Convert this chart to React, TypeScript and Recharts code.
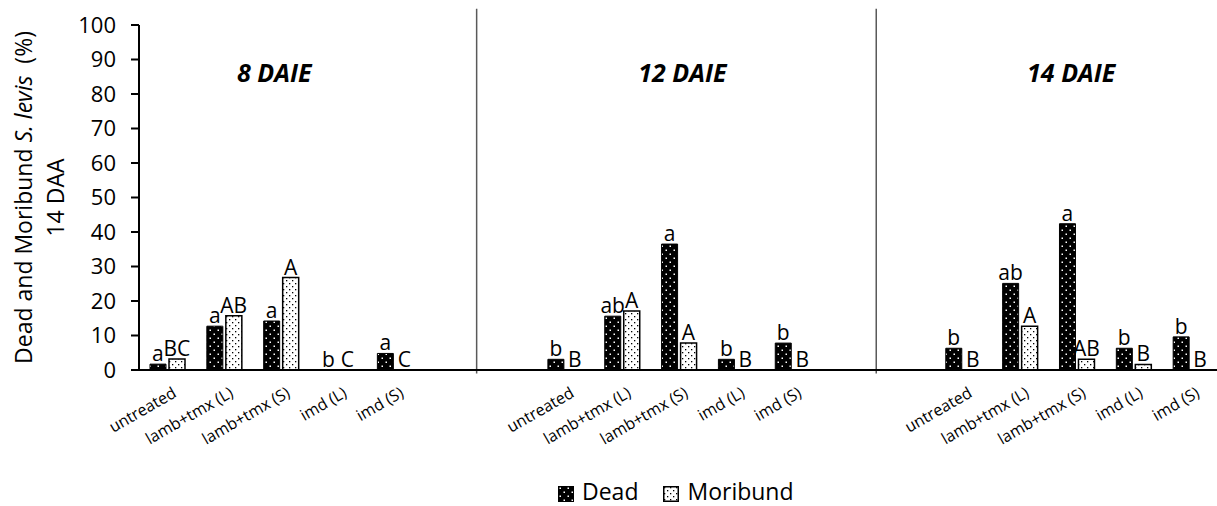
import React from 'react';
import { ComposedChart, Bar, Line, XAxis, YAxis, LabelList, Legend, ReferenceLine, ReferenceDot } from 'recharts';

const treatments = ['untreated', 'lamb+tmx (L)', 'lamb+tmx (S)', 'imd (L)', 'imd (S)'];
const timings = ['8 DAIE', '12 DAIE', '14 DAIE'];

const dead8 = [1.7, 12.7, 14.2, 0, 4.8];
const mor8 = [3.2, 15.7, 26.8, 0, 0];
const deadLetters8 = ['a', 'a', 'a', 'b', 'a'];
const morLetters8 = ['BC', 'AB', 'A', 'C', 'C'];

const dead12 = [3.1, 15.6, 36.5, 3.1, 7.8];
const mor12 = [0, 17.1, 7.8, 0, 0];
const deadLetters12 = ['b', 'ab', 'a', 'b', 'b'];
const morLetters12 = ['B', 'A', 'A', 'B', 'B'];

const dead14 = [6.3, 25.1, 42.4, 6.3, 9.6];
const mor14 = [0, 12.7, 3.1, 1.6, 0];
const deadLetters14 = ['b', 'ab', 'a', 'b', 'b'];
const morLetters14 = ['B', 'A', 'AB', 'B', 'B'];

const yTicks = [0, 10, 20, 30, 40, 50, 60, 70, 80, 90, 100];
const separatorPos = [5.94, 12.97];
const titlePos = [2.38, 9.56, 16.4];
const titleLevel = 86;
const blankSlots = 2;

const BAR_SIZE = 16;
const BAR_GAP = 3;

const deadSets = [dead8, dead12, dead14];
const morSets = [mor8, mor12, mor14];
const deadLetterSets = [deadLetters8, deadLetters12, deadLetters14];
const morLetterSets = [morLetters8, morLetters12, morLetters14];

const data: any[] = [];
timings.forEach((t, gi) => {
  treatments.forEach((tr, i) => {
    data.push({
      name: tr,
      dead: deadSets[gi][i],
      mor: morSets[gi][i],
      deadL: deadLetterSets[gi][i],
      morL: morLetterSets[gi][i],
    });
  });
  if (gi < timings.length - 1) {
    for (let k = 0; k < blankSlots; k++) data.push({ name: '', dead: null, mor: null });
  }
});
data.forEach((d, i) => {
  d.slot = i + 0.5;
});
const slotCount = data.length;

const XTick = (props: any) => {
  const { x, y, payload } = props;
  if (!payload || !payload.value) return null;
  return (
    <text
      x={0}
      y={0}
      transform={`translate(${x + 10},${y + 26}) rotate(-30)`}
      textAnchor="end"
      fontSize={16}
      fill="#000"
    >
      {payload.value}
    </text>
  );
};

const letterContent = (shift: number) => (props: any) => {
  const { x, y, value } = props;
  if (value == null || value === '' || x == null || y == null || isNaN(y)) return null;
  return (
    <text x={x + shift} y={y - 3} textAnchor="middle" fontSize={21} fill="#000">
      {value}
    </text>
  );
};

const renderYTitle = (props: any) => {
  const vb = props.viewBox || { x: 0, y: 25, width: 139, height: 345 };
  const cy = vb.y + vb.height / 2;
  return (
    <g>
      <text
        transform={`translate(23,${cy}) rotate(-90)`}
        textAnchor="middle"
        dominantBaseline="central"
        fontSize={23}
        fill="#000"
        style={{ whiteSpace: 'pre' }}
      >
        {'Dead and Moribund '}
        <tspan fontStyle="italic">S. levis</tspan>
        {'  (%)'}
      </text>
      <text
        transform={`translate(55,${cy}) rotate(-90)`}
        textAnchor="middle"
        dominantBaseline="central"
        fontSize={23}
        fill="#000"
      >
        14 DAA
      </text>
    </g>
  );
};

const renderLegend = () => (
  <div
    style={{
      width: 1220,
      height: 30,
      display: 'flex',
      alignItems: 'center',
      paddingLeft: 558,
      boxSizing: 'border-box',
      fontSize: 23,
      lineHeight: '30px',
      color: '#000',
    }}
  >
    <svg width={16} height={16} style={{ marginRight: 8, marginTop: 6 }}>
      <rect x={0} y={0} width={16} height={16} fill="url(#deadPat)" stroke="#000" />
    </svg>
    <span style={{ marginRight: 25 }}>Dead</span>
    <svg width={16} height={16} style={{ marginRight: 8, marginTop: 6 }}>
      <rect x={0.75} y={0.75} width={14.5} height={14.5} fill="url(#morPat)" stroke="#000" strokeWidth={1.5} />
    </svg>
    <span>Moribund</span>
  </div>
);

export default function App() {
  return (
    <div
      style={{
        position: 'absolute',
        left: 0,
        top: 0,
        width: 1217,
        height: 506,
        overflow: 'hidden',
        background: '#fff',
        fontFamily: '"Open Sans", sans-serif',
      }}
    >
      <ComposedChart
        width={1220}
        height={506}
        data={data}
        margin={{ top: 25, right: 1, left: 0, bottom: 0 }}
        barGap={BAR_GAP}
      >
        <defs>
          <pattern id="deadPat" patternUnits="userSpaceOnUse" width={8} height={8}>
            <rect x={0} y={0} width={8} height={8} fill="#000" />
            <rect x={1.5} y={1.5} width={1.5} height={1.5} fill="#fff" />
            <rect x={5.5} y={5.5} width={1.5} height={1.5} fill="#fff" />
          </pattern>
          <pattern id="morPat" patternUnits="userSpaceOnUse" width={6} height={6}>
            <rect x={0} y={0} width={6} height={6} fill="#fff" />
            <rect x={1} y={1} width={1.3} height={1.3} fill="#000" />
            <rect x={4} y={4} width={1.3} height={1.3} fill="#000" />
          </pattern>
        </defs>
        <XAxis
          xAxisId="cat"
          dataKey="name"
          type="category"
          interval={0}
          tickLine={false}
          tickSize={0}
          tickMargin={0}
          height={106}
          axisLine={{ stroke: '#000', strokeWidth: 2 }}
          tick={<XTick />}
        />
        <XAxis
          xAxisId="pos"
          dataKey="slot"
          type="number"
          domain={[0, slotCount]}
          allowDataOverflow
          hide
        />
        <YAxis
          domain={[0, 100]}
          ticks={yTicks}
          interval={0}
          width={139}
          tickSize={8}
          tickMargin={15}
          axisLine={{ stroke: '#000', strokeWidth: 2 }}
          tickLine={{ stroke: '#000', strokeWidth: 2 }}
          tick={{ fontSize: 22, fill: '#000' }}
          label={renderYTitle}
        />
        {separatorPos.map((p, i) => (
          <ReferenceLine
            key={'sep' + i}
            xAxisId="pos"
            segment={[{ x: p, y: -1 }, { x: p, y: 104.7 }]}
            stroke="#595959"
            strokeWidth={1.5}
            ifOverflow="visible"
          />
        ))}
        {timings.map((t, i) => (
          <ReferenceDot
            key={'title' + i}
            xAxisId="pos"
            x={titlePos[i]}
            y={titleLevel}
            r={0}
            fill="none"
            stroke="none"
            ifOverflow="visible"
            label={{
              value: t,
              position: 'center',
              fontSize: 25,
              fontWeight: 700,
              fontStyle: 'italic',
              fill: '#000',
            }}
          />
        ))}
        <Bar
          xAxisId="cat"
          dataKey="dead"
          name="Dead"
          fill="url(#deadPat)"
          stroke="#000"
          strokeWidth={1}
          barSize={BAR_SIZE}
          isAnimationActive={false}
        />
        <Bar
          xAxisId="cat"
          dataKey="mor"
          name="Moribund"
          fill="url(#morPat)"
          stroke="#000"
          strokeWidth={1.5}
          barSize={BAR_SIZE}
          isAnimationActive={false}
        />
        <Line
          xAxisId="cat"
          dataKey="dead"
          stroke="none"
          dot={false}
          activeDot={false}
          legendType="none"
          isAnimationActive={false}
        >
          <LabelList dataKey="deadL" content={letterContent(-(BAR_SIZE + BAR_GAP) / 2)} />
        </Line>
        <Line
          xAxisId="cat"
          dataKey="mor"
          stroke="none"
          dot={false}
          activeDot={false}
          legendType="none"
          isAnimationActive={false}
        >
          <LabelList dataKey="morL" content={letterContent((BAR_SIZE + BAR_GAP) / 2)} />
        </Line>
        <Legend verticalAlign="bottom" content={renderLegend} wrapperStyle={{ left: 0, width: 1220 }} />
      </ComposedChart>
    </div>
  );
}
